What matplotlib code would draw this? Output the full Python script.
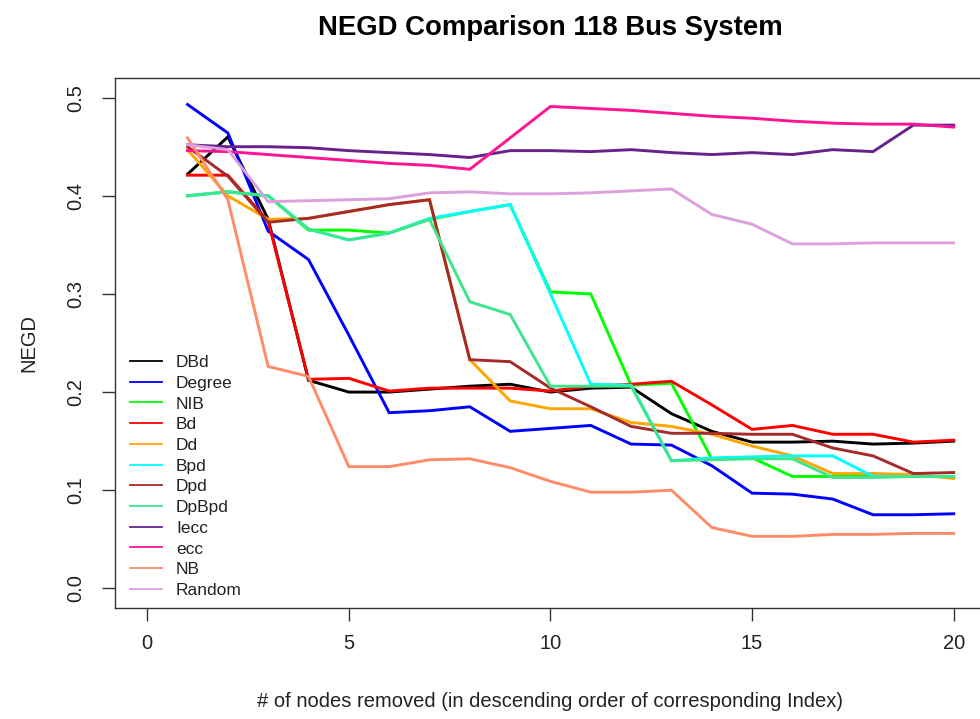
"""NEGD comparison for the 118 bus system."""

import matplotlib
matplotlib.use('Agg')
import matplotlib.pyplot as plt
from matplotlib.lines import Line2D

plt.rcParams['font.family'] = ['Liberation Sans', 'DejaVu Sans']

nodes_removed = list(range(1, 21))

dbd = [0.422, 0.460, 0.376, 0.212, 0.200, 0.200, 0.203, 0.206, 0.208, 0.200,
       0.204, 0.205, 0.178, 0.160, 0.149, 0.149, 0.150, 0.147, 0.148, 0.150]
degree = [0.493, 0.464, 0.364, 0.335, 0.258, 0.179, 0.181, 0.185, 0.160, 0.163,
          0.166, 0.147, 0.146, 0.125, 0.097, 0.096, 0.091, 0.075, 0.075, 0.076]
nib = [0.400, 0.404, 0.400, 0.365, 0.365, 0.362, 0.376, 0.384, 0.391, 0.302,
       0.300, 0.207, 0.209, 0.132, 0.133, 0.114, 0.114, 0.114, 0.114, 0.114]
bd = [0.421, 0.421, 0.374, 0.213, 0.214, 0.201, 0.204, 0.204, 0.204, 0.201,
      0.206, 0.208, 0.211, 0.187, 0.162, 0.166, 0.157, 0.157, 0.149, 0.151]
dd = [0.447, 0.400, 0.376, 0.377, 0.384, 0.391, 0.396, 0.233, 0.191, 0.183,
      0.183, 0.169, 0.165, 0.157, 0.145, 0.135, 0.117, 0.117, 0.116, 0.112]
bpd = [0.400, 0.404, 0.400, 0.366, 0.355, 0.362, 0.377, 0.384, 0.391, 0.300,
       0.208, 0.207, 0.130, 0.133, 0.134, 0.135, 0.135, 0.114, 0.114, 0.114]
dpd = [0.450, 0.420, 0.373, 0.377, 0.384, 0.391, 0.396, 0.233, 0.231, 0.204,
       0.185, 0.165, 0.158, 0.158, 0.157, 0.157, 0.143, 0.135, 0.117, 0.118]
dpbpd = [0.400, 0.404, 0.400, 0.366, 0.355, 0.362, 0.376, 0.292, 0.279, 0.206,
         0.206, 0.206, 0.130, 0.131, 0.132, 0.132, 0.113, 0.113, 0.114, 0.114]
iecc = [0.452, 0.450, 0.450, 0.449, 0.446, 0.444, 0.442, 0.439, 0.446, 0.446,
        0.445, 0.447, 0.444, 0.442, 0.444, 0.442, 0.447, 0.445, 0.472, 0.472]
ecc = [0.446, 0.445, 0.442, 0.439, 0.436, 0.433, 0.431, 0.427, 0.459, 0.491,
       0.489, 0.487, 0.484, 0.481, 0.479, 0.476, 0.474, 0.473, 0.473, 0.470]
nb = [0.459, 0.396, 0.226, 0.216, 0.124, 0.124, 0.131, 0.132, 0.123, 0.109,
      0.098, 0.098, 0.100, 0.062, 0.053, 0.053, 0.055, 0.055, 0.056, 0.056]
random_rm = [0.452, 0.447, 0.394, 0.395, 0.396, 0.397, 0.403, 0.404, 0.402, 0.402,
             0.403, 0.405, 0.407, 0.381, 0.371, 0.351, 0.351, 0.352, 0.352, 0.352]

labels = ['DBd', 'Degree', 'NIB', 'Bd', 'Dd', 'Bpd', 'Dpd', 'DpBpd',
          'Iecc', 'ecc', 'NB', 'Random']
series = [dbd, degree, nib, bd, dd, bpd, dpd, dpbpd, iecc, ecc, nb, random_rm]
colors = ['#000000', '#0000FF', '#00FF00', '#FF0000', '#FFA500', '#00FFFF',
          '#A52A2A', '#3EE68B', '#68228B', '#FF1493', '#FF8C69', '#DDA0DD']

fig = plt.figure(figsize=(9.8, 7.19), dpi=100)
ax = fig.add_axes([0.1173, 0.1544, 0.8888, 0.7371])

for vals, col in zip(series, colors):
    ax.plot(nodes_removed, vals, color=col, linewidth=2.1, solid_joinstyle='miter')

ax.set_xlim(-0.8, 20.8)
ax.set_ylim(-0.02, 0.52)
ax.set_xticks([0, 5, 10, 15, 20])
ax.set_yticks([0.0, 0.1, 0.2, 0.3, 0.4, 0.5])
ax.set_yticklabels(['0.0', '0.1', '0.2', '0.3', '0.4', '0.5'], rotation=90, va='center')
ax.tick_params(axis='both', labelsize=14.5, length=9.5, width=1.0, color='#333333',
               labelcolor='#222222')
ax.tick_params(axis='x', pad=9)
ax.tick_params(axis='y', pad=12)
for sp in ax.spines.values():
    sp.set_linewidth(1.0)
    sp.set_color('#333333')

ax.set_xlabel('# of nodes removed (in descending order of corresponding Index)',
              fontsize=14.5, color='#222222', labelpad=28)
ax.set_ylabel('NEGD', fontsize=14.5, color='#222222', labelpad=20)
ax.set_title('NEGD Comparison 118 Bus System', fontsize=19.8, fontweight='bold',
             pad=31)

# legend like R's bty="n"
handles = [Line2D([0], [0], color=c, linewidth=1.3) for c in colors]
fig.legend(handles, labels, loc='upper left', bbox_to_anchor=(130 / 980, 1 - 355 / 719),
           frameon=False, fontsize=12.5, handlelength=1.85, handletextpad=0.8,
           labelspacing=0.32, borderpad=0, borderaxespad=0, labelcolor='#222222')

plt.savefig('out.png', dpi=100)
